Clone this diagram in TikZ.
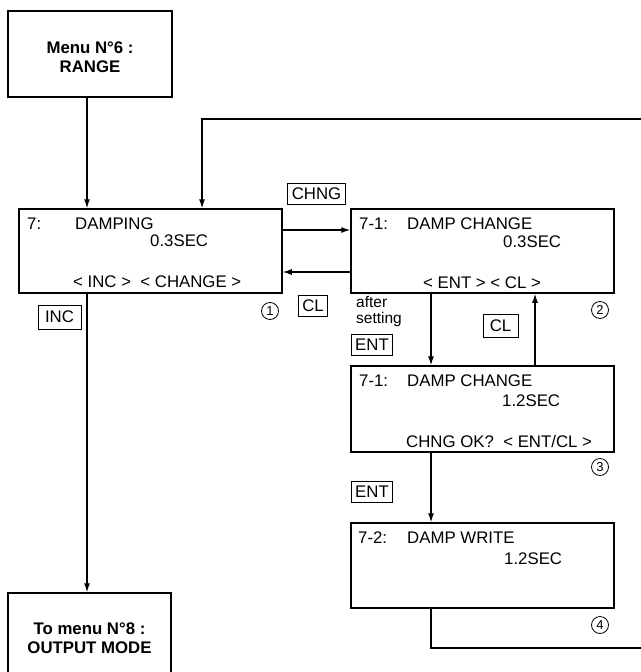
\documentclass[tikz,border=0pt]{standalone}
\usepackage{fontspec}
\setmainfont{Liberation Sans}
\usetikzlibrary{arrows.meta}
\newcommand\dfs{\fontsize{16.8}{19}\selectfont}
\begin{document}
\begin{tikzpicture}[x=1pt,y=-1pt,
  bigbox/.style={draw,line width=1.5pt,inner sep=0pt},
  txt/.style={anchor=west,inner sep=0pt,font=\dfs},
  ctxt/.style={inner sep=0pt,font=\dfs\bfseries,align=center},
  keylab/.style={draw,line width=0.9pt,inner xsep=4pt,inner ysep=0pt,minimum height=21pt,font=\dfs},
  numc/.style={draw,circle,line width=0.8pt,inner sep=0pt,minimum size=17pt,font=\fontsize{13}{14}\selectfont},
  arr/.style={line width=1.2pt,-{Latex[length=9pt,width=6pt]}},
  ln/.style={line width=1.2pt}]
\useasboundingbox (0,0) rectangle (640,672);

% boxes
\node[bigbox,minimum width=164pt,minimum height=86pt] (menu) at (90,54) {};
\node[ctxt] (menut) at (90,57.5) {Menu N°6 :\\RANGE};
\node[bigbox,minimum width=163pt,minimum height=83pt] (tomenu) at (89.5,634.5) {};
\node[ctxt] (tomenut) at (89.5,638.5) {To menu N°8 :\\OUTPUT MODE};

\node[bigbox,minimum width=263pt,minimum height=84pt] (b1) at (150.5,251) {};
\node[bigbox,minimum width=263pt,minimum height=84pt] (b2) at (482.5,251) {};
\node[bigbox,minimum width=263pt,minimum height=86pt] (b3) at (482.5,409) {};
\node[bigbox,minimum width=263pt,minimum height=85pt] (b4) at (482.5,565.5) {};

% box texts
\node[txt] (t1a) at (27,224) {7:};
\node[txt] (t1b) at (75,224) {DAMPING};
\node[txt] (t1c) at (150,241) {0.3SEC};
\node[txt] (t1d) at (73,282) {< INC > \ < CHANGE >};

\node[txt] (t2a) at (359,224) {7-1:};
\node[txt] (t2b) at (407,224) {DAMP CHANGE};
\node[txt] (t2c) at (503,242) {0.3SEC};
\node[txt] (t2d) at (423,283) {< ENT > < CL >};

\node[txt] (t3a) at (359,381) {7-1:};
\node[txt] (t3b) at (407,381) {DAMP CHANGE};
\node[txt] (t3c) at (502,401) {1.2SEC};
\node[txt] (t3d) at (406,441) {CHNG OK? \ < ENT/CL >};

\node[txt] (t4a) at (358,538) {7-2:};
\node[txt] (t4b) at (407,538) {DAMP WRITE};
\node[txt] (t4c) at (504,559) {1.2SEC};

% circled numbers
\node[numc] (n1) at (270,311) {1};
\node[numc] (n2) at (600,310) {2};
\node[numc] (n3) at (600,467) {3};
\node[numc] (n4) at (600,625) {4};

% key labels
\node[keylab] (kchng) at (316.5,194) {CHNG};
\node[keylab] (kcl1) at (313,306) {CL};
\node[keylab,minimum width=43pt,minimum height=24pt] (kinc) at (59.5,317) {INC};
\node[keylab] (kent1) at (372,344.5) {ENT};
\node[keylab,minimum width=35pt,minimum height=23pt] (kcl2) at (500.5,325.5) {CL};
\node[keylab] (kent2) at (372,492) {ENT};
\node[txt,anchor=north west,align=left,font=\fontsize{15.5}{16.5}\selectfont] (after) at (356,296) {after\\setting};

% coordinates for connectors
\coordinate (xa) at (87,0);
\coordinate (xc) at (202,0);
\coordinate (xd) at (431,0);
\coordinate (xe) at (535,0);
\coordinate (ya) at (0,230);
\coordinate (yb) at (0,272);
\coordinate (fb1) at (648,648);
\coordinate (fb2) at (648,119);

% connectors
\draw[arr] (xa |- menu.south) -- (xa |- b1.north);
\draw[arr] (xa |- b1.south) -- (xa |- tomenu.north);
\draw[arr] (b1.east |- ya) -- (b2.west |- ya);
\draw[arr] (b2.west |- yb) -- (b1.east |- yb);
\draw[arr] (xd |- b2.south) -- (xd |- b3.north);
\draw[arr] (xe |- b3.north) -- (xe |- b2.south);
\draw[arr] (xd |- b3.south) -- (xd |- b4.north);
\draw[arr] (xd |- b4.south) -- (xd |- fb1) -- (fb1) -- (fb2) -- (xc |- fb2) -- (xc |- b1.north);
\end{tikzpicture}
\end{document}
